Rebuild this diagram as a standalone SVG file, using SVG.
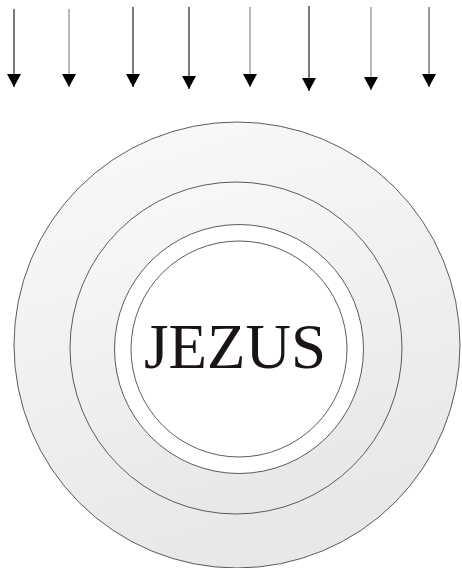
<svg xmlns="http://www.w3.org/2000/svg" width="462" height="568" viewBox="0 0 462 568">
<defs>
<style>
.ring{stroke:#333;stroke-width:0.8}
.arr{stroke-width:1.2;fill:none;marker-end:url(#head)}
.dk{stroke:#222}
.lt{stroke:#888}
.md{stroke:#555}
.lbl{font-family:"Liberation Serif","Times New Roman",serif;font-size:63px;fill:#1a1414;text-anchor:middle}
</style>
<linearGradient id="g" x1="0" y1="0" x2="0.3" y2="1">
<stop offset="0" stop-color="#fafafa"/>
<stop offset="1" stop-color="#e8e8e8"/>
</linearGradient>
<marker id="head" markerUnits="userSpaceOnUse" markerWidth="14" markerHeight="14" viewBox="0 0 14 14" refX="13" refY="7" orient="auto">
<path d="M0,0 L13,7 L0,14 Z" fill="#000"/>
</marker>
</defs>
<rect width="462" height="568" fill="#fff"/>
<g id="outer-ring"><circle class="ring" cx="237" cy="345" r="223" fill="url(#g)"/></g>
<g id="second-ring"><circle class="ring" cx="236" cy="348" r="166" fill="url(#g)"/></g>
<g id="third-ring"><circle class="ring" cx="239" cy="349" r="124.5" fill="#fff"/></g>
<g id="inner-circle"><circle class="ring" cx="239" cy="349" r="108" fill="#fff"/>
<text class="lbl" x="235" y="368">JEZUS</text></g>
<g id="arrows">
<line class="arr dk" x1="14" y1="9" x2="14" y2="87"/>
<line class="arr lt" x1="69" y1="9" x2="69" y2="87"/>
<line class="arr dk" x1="133" y1="7" x2="133" y2="87"/>
<line class="arr dk" x1="189" y1="7" x2="189" y2="89"/>
<line class="arr lt" x1="250" y1="7" x2="250" y2="87"/>
<line class="arr dk" x1="309" y1="6" x2="309" y2="91"/>
<line class="arr lt" x1="371" y1="7" x2="371" y2="90"/>
<line class="arr md" x1="429" y1="7" x2="429" y2="87"/>
</g>
</svg>
